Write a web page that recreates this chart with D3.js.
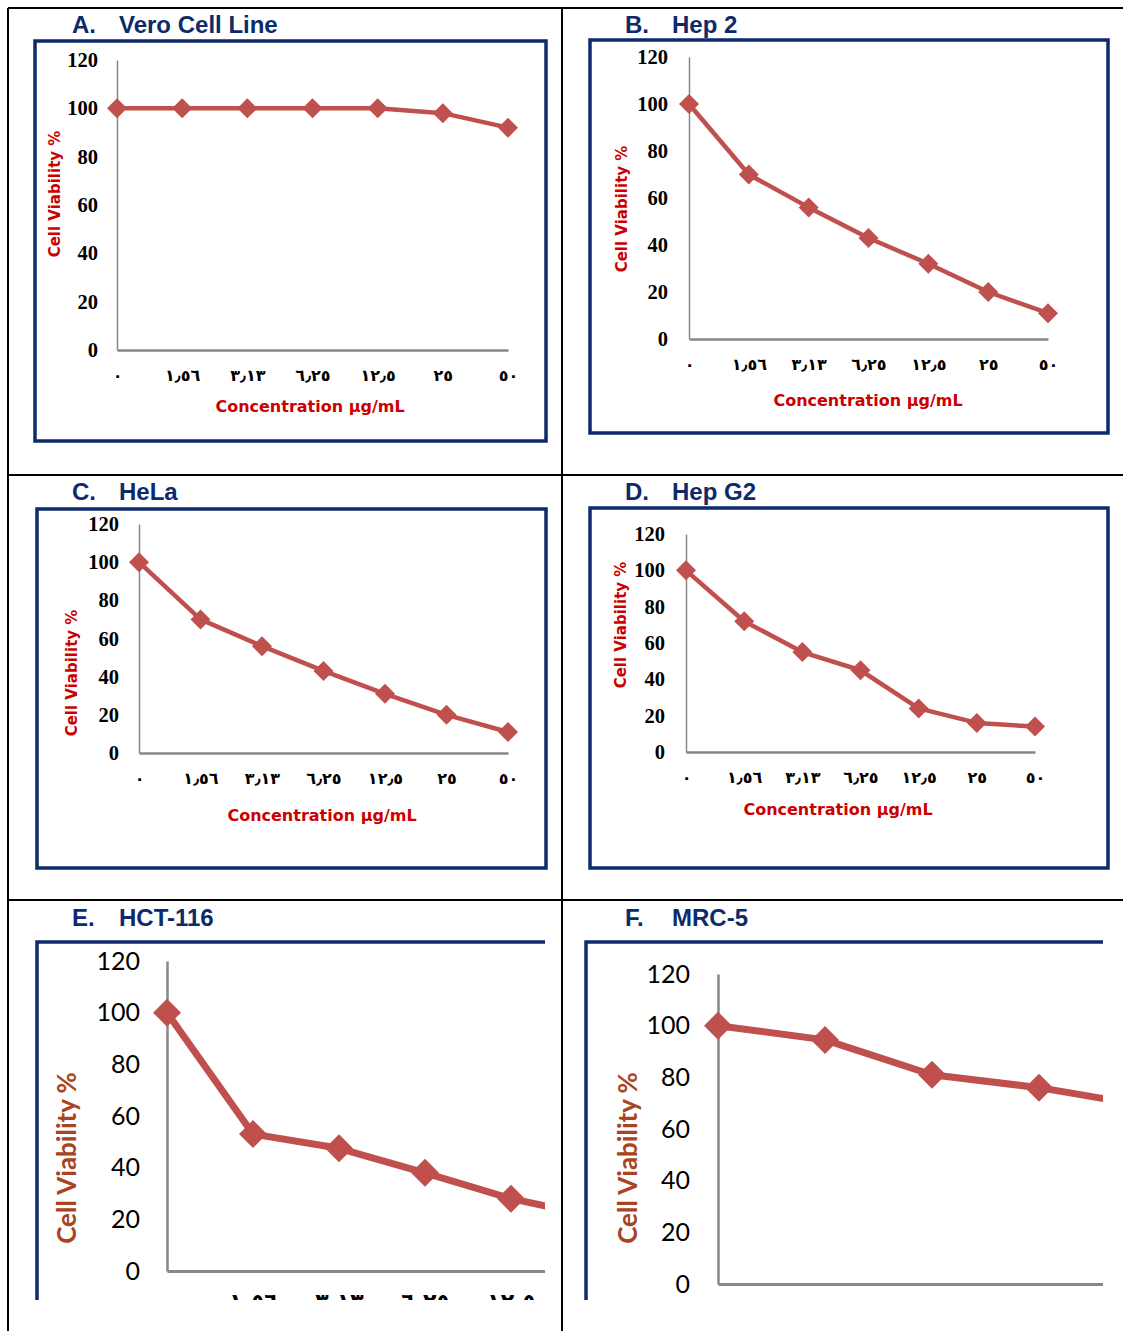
<!DOCTYPE html>
<html>
<head>
<meta charset="utf-8">
<script src="https://cdn.jsdelivr.net/npm/d3@7"></script>
<style>
  body { margin: 0; background: #fff; }
  svg { display: block; }
  .ttl { font-family: "Liberation Sans", Arial, sans-serif; font-weight: bold; font-size: 24px; fill: #0d2a6a; }
  .ylab-s { font-family: "DejaVu Sans", sans-serif; font-weight: bold; font-size: 15px; fill: #cc0000; }
  .xlab-s { font-family: "DejaVu Sans", sans-serif; font-weight: bold; font-size: 16px; fill: #cc0000; }
  .ylab-l { font-family: Lato, "Open Sans", sans-serif; font-weight: bold; font-size: 26px; fill: #a94420; }
  .ytick-s text { font-family: "Liberation Serif", serif; font-weight: bold; font-size: 20.5px; fill: #000; }
  .xtick-s text { font-family: "DejaVu Sans", sans-serif; font-weight: bold; font-size: 16px; fill: #000; }
  .ytick-l text { font-family: Lato, "Open Sans", sans-serif; font-size: 25px; fill: #000; }
  .xtick-l text { font-family: "DejaVu Sans", sans-serif; font-weight: bold; font-size: 22px; fill: #000; }
</style>
</head>
<body>
<svg id="fig" width="1123" height="1331"></svg>
<script>
// concentrations (µg/mL) as printed, Arabic-Indic digits
const concLabels = ["٠", "١٫٥٦", "٣٫١٣", "٦٫٢٥", "١٢٫٥", "٢٥", "٥٠"];
const yTicks = [0, 20, 40, 60, 80, 100, 120];

// cell viability % per cell line
const veroValues = [100, 100, 100, 100, 100, 98, 92];
const hep2Values = [100, 70, 56, 43, 32, 20, 11];
const helaValues = [100, 70, 56, 43, 31, 20, 11];
const hepg2Values = [100, 72, 55, 45, 24, 16, 14];
const hct116Values = [100, 53, 47.5, 38, 28, 21, 15];
const mrc5Values = [100, 94.5, 81, 76, 69, 63, 58];

const panelNames = ["Vero Cell Line", "Hep 2", "HeLa", "Hep G2", "HCT-116", "MRC-5"];
const panelLetters = ["A.", "B.", "C.", "D.", "E.", "F."];

const svg = d3.select("#fig");
const red = "#c0504d";
const navy = "#0d2a6a";

// outer table grid
const grid = svg.append("g").attr("stroke", "#000").attr("stroke-width", 2);
grid.append("line").attr("x1", 8).attr("y1", 8).attr("x2", 1123).attr("y2", 8);
grid.append("line").attr("x1", 8).attr("y1", 475).attr("x2", 1123).attr("y2", 475);
grid.append("line").attr("x1", 8).attr("y1", 900).attr("x2", 1123).attr("y2", 900);
grid.append("line").attr("x1", 8).attr("y1", 8).attr("x2", 8).attr("y2", 1331);
grid.append("line").attr("x1", 562).attr("y1", 8).attr("x2", 562).attr("y2", 1331);

function panel(i, values, o) {
  let g = svg.append("g");

  // title
  g.append("text").attr("class", "ttl").attr("x", o.tx).attr("y", o.ty).text(panelLetters[i]);
  g.append("text").attr("class", "ttl").attr("x", o.tx + 47).attr("y", o.ty).text(panelNames[i]);

  // frame
  if (o.open) {
    g.append("path")
      .attr("d", `M${o.box[0]},${o.box[3]} V${o.box[1]} H${o.box[2]}`)
      .attr("fill", "none").attr("stroke", navy).attr("stroke-width", 3.5);
  } else {
    g.append("rect")
      .attr("x", o.box[0]).attr("y", o.box[1])
      .attr("width", o.box[2] - o.box[0]).attr("height", o.box[3] - o.box[1])
      .attr("fill", "none").attr("stroke", navy).attr("stroke-width", 3.5);
  }

  let clipId = "clip" + i;
  svg.append("clipPath").attr("id", clipId).append("rect")
    .attr("x", o.box[0]).attr("y", o.box[1])
    .attr("width", o.box[2] - o.box[0]).attr("height", o.box[3] - o.box[1]);
  let plot = g.append("g").attr("clip-path", `url(#${clipId})`);

  let x = d3.scalePoint().domain(concLabels).range([o.x0, o.x1]).padding(0);
  let y = d3.scaleLinear().domain([0, 120]).range([o.y0, o.yTop]);
  let sz = o.large ? "l" : "s";

  let yAxis = d3.axisLeft(y).tickValues(yTicks).tickSize(0).tickSizeOuter(0).tickPadding(o.yPad);
  plot.append("g").attr("class", "ytick-" + sz)
    .attr("transform", `translate(${o.x0},0)`)
    .call(yAxis)
    .call((a) => a.select(".domain").attr("stroke", "#878787").attr("stroke-width", o.large ? 2.5 : 1.5));

  let xAxis = d3.axisBottom(x).tickSize(0).tickSizeOuter(0).tickPadding(o.xPad);
  plot.append("g").attr("class", "xtick-" + sz)
    .attr("transform", `translate(0,${o.y0})`)
    .call(xAxis)
    .call((a) => a.select(".domain").attr("stroke", "#878787").attr("stroke-width", o.large ? 3 : 2.5))
    // labels that sit wholly outside the cropped frame are not in the figure
    .call((a) => a.selectAll(".tick")
      .filter((d) => x(d) > o.box[2] || o.y0 + o.xPad > o.box[3])
      .remove());

  let line = d3.line()
    .x((d, j) => x(concLabels[j]))
    .y((d) => y(d));
  plot.append("path").datum(values)
    .attr("d", line)
    .attr("fill", "none").attr("stroke", red)
    .attr("stroke-width", o.large ? 7 : 4.5)
    .attr("stroke-linejoin", "round");

  let m = o.large ? 14 : 10;
  plot.selectAll(".mk").data(values).enter()
    .append("path")
    .attr("d", `M0,${-m} L${m},0 L0,${m} L${-m},0 Z`)
    .attr("transform", (d, j) => `translate(${x(concLabels[j])},${y(d)})`)
    .attr("fill", red);

  // axis titles
  g.append("text").attr("class", "ylab-" + sz)
    .attr("transform", `translate(${o.ylx},${o.yly}) rotate(-90)`)
    .attr("text-anchor", "middle").attr("dy", "0.35em")
    .text("Cell Viability %");
  if (!o.large) {
    g.append("text").attr("class", "xlab-s")
      .attr("x", o.xlx).attr("y", o.xly)
      .attr("text-anchor", "middle").attr("dy", "0.35em")
      .text("Concentration µg/mL");
  }
}

panel(0, veroValues, { tx: 72, ty: 33, box: [35, 41, 546, 441], x0: 117, x1: 508, y0: 350, yTop: 60,
  yPad: 19, xPad: 20, ylx: 55, yly: 194, xlx: 310, xly: 406 });
panel(1, hep2Values, { tx: 625, ty: 33, box: [590, 40, 1108, 433], x0: 689, x1: 1048, y0: 339, yTop: 57,
  yPad: 21, xPad: 20, ylx: 622, yly: 209, xlx: 868, xly: 400 });
panel(2, helaValues, { tx: 72, ty: 500, box: [37, 509, 546, 868], x0: 139, x1: 508, y0: 753, yTop: 524,
  yPad: 20, xPad: 20, ylx: 72, yly: 673, xlx: 322, xly: 815 });
panel(3, hepg2Values, { tx: 625, ty: 500, box: [590, 508, 1108, 868], x0: 686, x1: 1035, y0: 752, yTop: 534,
  yPad: 21, xPad: 20, ylx: 621, yly: 625, xlx: 838, xly: 809 });
panel(4, hct116Values, { tx: 72, ty: 926, box: [37, 942, 545, 1300], open: true, large: true,
  x0: 167, x1: 683, y0: 1271, yTop: 961, yPad: 27, xPad: 22, ylx: 67, yly: 1158 });
panel(5, mrc5Values, { tx: 625, ty: 926, box: [586, 942, 1103, 1300], open: true, large: true,
  x0: 718, x1: 1360, y0: 1284, yTop: 974, yPad: 28, xPad: 22, ylx: 628, yly: 1158 });
</script>
</body>
</html>
